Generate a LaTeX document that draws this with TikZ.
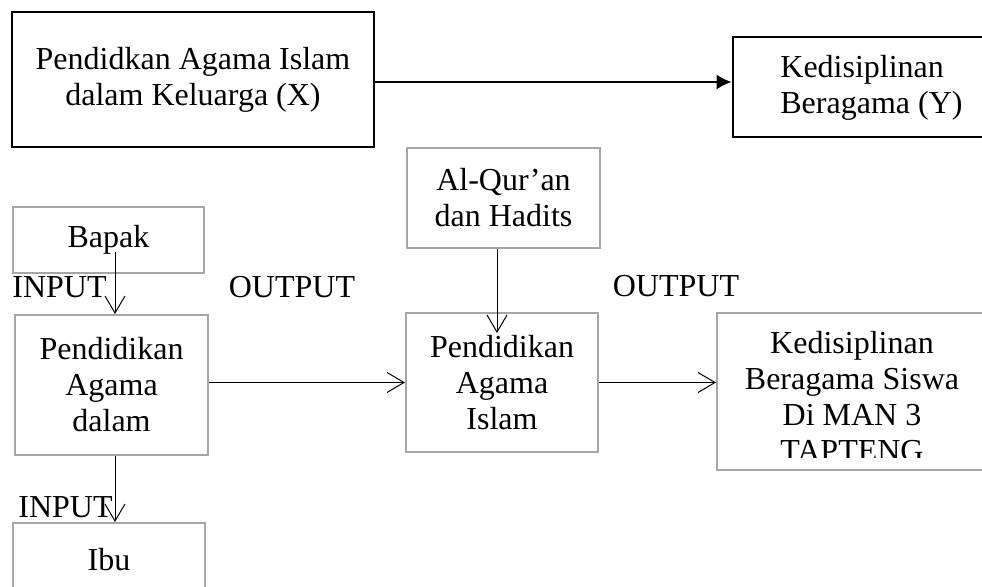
\documentclass[tikz,border=0pt]{standalone}
\usepackage{fontspec}
\setmainfont{Liberation Serif}
\usetikzlibrary{arrows.meta}
\definecolor{mgrey}{RGB}{166, 166, 166}
\tikzset{blackbox/.style = {draw, line width=1.4pt, align=center, inner sep=0}}
\tikzset{greybox/.style = {draw=mgrey, line width=1pt, align=center, inner sep=0}}
\tikzset{lbl/.style = {inner sep=0, align=left}}
\tikzset{openhead/.style = {-{Straight Barb[length=8.5pt, width=10pt]}, line width=0.5pt}}
\tikzset{fullhead/.style = {-{Latex[length=7.5pt, width=7.5pt]}, line width=1pt}}

\begin{document}
\begin{tikzpicture}[x=0.5pt, y=-0.5pt, font=\fontsize{16}{18}\selectfont]
    \useasboundingbox (0, 0) rectangle (982, 587);

    % top row
    \node (varx) at (193, 79.5) [blackbox, minimum width=181pt, minimum height=67.5pt]
      {Pendidkan Agama Islam\\dalam Keluarga (X)};
    \node (vary) at (866.5, 87) [blackbox, minimum width=133.5pt, minimum height=50pt] {};
    \node (vary text) at (780, 88) [lbl, anchor=west] {Kedisiplinan\\Beragama (Y)};
    \coordinate (varx out) at (374, 82);
    \draw [fullhead] (varx out) -- (varx out -| vary.west);

    % lower row
    \node (bapak) at (108.5, 240) [greybox, minimum width=95.5pt, minimum height=33pt] {Bapak};
    \node (pad) at (111.5, 385) [greybox, minimum width=96.5pt, minimum height=70pt]
      {Pendidikan\\Agama\\dalam};
    \node (ibu) at (109, 560) [greybox, minimum width=96pt, minimum height=37pt] {Ibu};
    \node (quran) at (503.5, 198) [greybox, minimum width=96.5pt, minimum height=50pt]
      {Al-Qur’an\\dan Hadits};
    \node (pai) at (502, 382.5) [greybox, minimum width=96pt, minimum height=69.5pt]
      {Pendidikan\\Agama\\Islam};
    \node (ks) at (858.5, 391.5) [greybox, minimum width=141.5pt, minimum height=78.5pt] {};
    \begin{scope}
      \clip (717, 313) rectangle (1000, 458);
      \node (ks text) at (852, 397) [inner sep=0, align=center]
        {Kedisiplinan\\Beragama Siswa\\Di MAN 3\\TAPTENG};
    \end{scope}

    \node (input a) at (12, 287) [lbl, anchor=west] {INPUT};
    \node (output a) at (292, 287) [lbl] {OUTPUT};
    \node (output b) at (676, 286) [lbl] {OUTPUT};
    \node (input b) at (18, 507) [lbl, anchor=west] {INPUT};

    \coordinate (bapak in) at (115, 252);
    \coordinate (quran in) at (497, 333);
    \draw [openhead] (bapak in) -- (bapak in |- pad.north);
    \draw [openhead] (pad.south -| bapak in) -- (ibu.north -| bapak in);
    \draw [openhead] (quran.south -| quran in) -- (quran in);
    \draw [openhead] (pai.west -| pad.east) -- (pai.west);
    \draw [openhead] (pai.east) -- (pai.east -| ks.west);
  \end{tikzpicture}
\end{document}
